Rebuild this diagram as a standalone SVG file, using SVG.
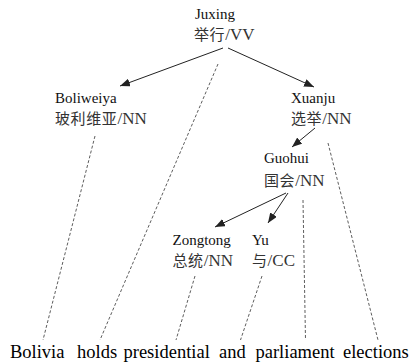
<svg xmlns="http://www.w3.org/2000/svg" width="411" height="363" viewBox="0 0 411 363">
  <style>
    .lat { font-family: "Liberation Serif", "Times New Roman", serif; font-size: 15px; fill: #111; }
    .cjk { font-family: "Noto Sans CJK SC", "Noto Sans CJK TC", sans-serif; font-size: 15px; letter-spacing: 0.6px; fill: #333; }
    .tag { font-family: "Liberation Serif", "Times New Roman", serif; font-size: 17px; fill: #333; }
    .word { font-family: "Liberation Serif", "Times New Roman", serif; font-size: 18.5px; fill: #000; }
    .dep { stroke: #222; stroke-width: 1; fill: none; marker-end: url(#head); }
    .align { stroke: #333; stroke-width: 0.8; fill: none; stroke-dasharray: 3 2; }
  </style>
  <defs>
    <marker id="head" viewBox="0 0 10 8" refX="10" refY="4" markerWidth="10" markerHeight="8" markerUnits="userSpaceOnUse" orient="auto">
      <path d="M0,0 L10,4 L0,8 z" fill="#222"/>
    </marker>
  </defs>

  <!-- dependency arrows and word alignment links -->
  <g id="connectors">
    <line class="dep" x1="223" y1="48" x2="120" y2="86"/>
    <line class="dep" x1="228" y1="48" x2="314" y2="87"/>
    <line class="dep" x1="315" y1="128" x2="292" y2="147"/>
    <line class="dep" x1="286" y1="193" x2="215" y2="227"/>
    <line class="dep" x1="288" y1="193" x2="268" y2="223"/>

    <line class="align" x1="218" y1="64" x2="100" y2="340"/>
    <line class="align" x1="95" y1="136" x2="43" y2="340"/>
    <line class="align" x1="328" y1="143" x2="378" y2="340"/>
    <line class="align" x1="303" y1="200" x2="305.5" y2="340"/>
    <line class="align" x1="195" y1="276" x2="176" y2="340"/>
    <line class="align" x1="262" y1="276" x2="240.5" y2="340"/>
  </g>

  <g id="juxing">
    <text class="lat" x="195" y="18.5">Juxing</text>
    <text x="194" y="39.5"><tspan class="cjk">举行</tspan><tspan class="tag">/VV</tspan></text>
  </g>
  <g id="boliweiya">
    <text class="lat" x="55" y="102.5">Boliweiya</text>
    <text x="55" y="124"><tspan class="cjk">玻利维亚</tspan><tspan class="tag">/NN</tspan></text>
  </g>
  <g id="xuanju">
    <text class="lat" x="291" y="102.5">Xuanju</text>
    <text x="291" y="124"><tspan class="cjk">选举</tspan><tspan class="tag">/NN</tspan></text>
  </g>
  <g id="guohui">
    <text class="lat" x="264" y="163">Guohui</text>
    <text x="264" y="185.5"><tspan class="cjk">国会</tspan><tspan class="tag">/NN</tspan></text>
  </g>
  <g id="zongtong">
    <text class="lat" x="172.5" y="244.5">Zongtong</text>
    <text x="172.5" y="265.5"><tspan class="cjk">总统</tspan><tspan class="tag">/NN</tspan></text>
  </g>
  <g id="yu">
    <text class="lat" x="252" y="244.5">Yu</text>
    <text x="252" y="265.5"><tspan class="cjk">与</tspan><tspan class="tag">/CC</tspan></text>
  </g>

  <!-- English sentence -->
  <g id="sentence">
    <text class="word" x="10" y="358">Bolivia</text>
    <text class="word" x="77" y="358">holds</text>
    <text class="word" x="123.5" y="358">presidential</text>
    <text class="word" x="219" y="358">and</text>
    <text class="word" x="255.5" y="358">parliament</text>
    <text class="word" x="343" y="358">elections</text>
  </g>
</svg>
